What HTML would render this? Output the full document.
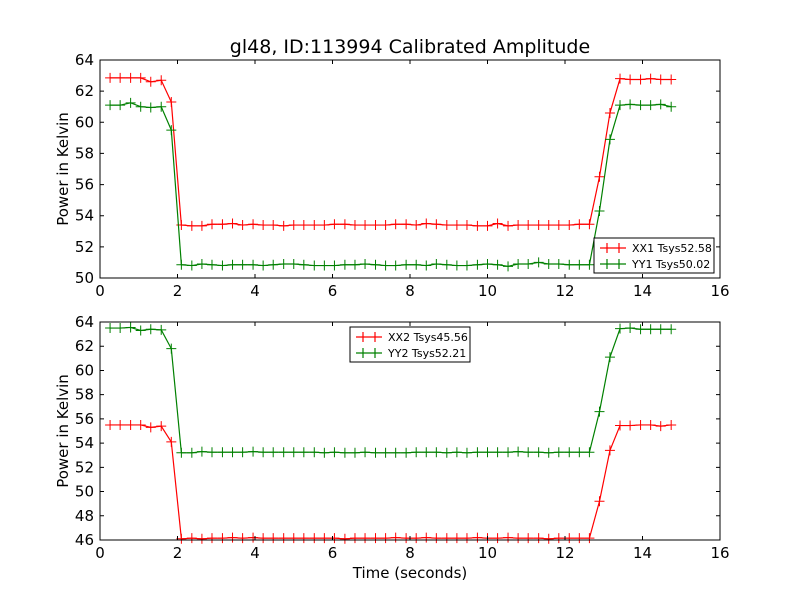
<!DOCTYPE html>
<html><head><meta charset="utf-8"><style>
body{margin:0;background:#fff}
svg{display:block;font-family:"DejaVu Sans","Liberation Sans",sans-serif}
</style></head><body>
<svg id="chart" width="800" height="600" xmlns="http://www.w3.org/2000/svg">
<rect width="800" height="600" fill="#fff"/>
<text x="410" y="53" font-size="19" text-anchor="middle">gl48, ID:113994 Calibrated Amplitude</text>
<g id="p1"></g>
<g id="p2"></g>
<text x="410" y="578" font-size="15" text-anchor="middle">Time (seconds)</text>
</svg>
<script>
const times=[0.26,0.52,0.79,1.05,1.31,1.58,1.84,2.10,2.37,2.63,2.89,3.16,3.42,3.68,3.95,4.21,4.47,4.74,5.00,5.26,5.53,5.79,6.05,6.32,6.58,6.84,7.11,7.37,7.63,7.90,8.16,8.42,8.68,8.95,9.21,9.47,9.74,10.00,10.26,10.53,10.79,11.05,11.32,11.58,11.84,12.11,12.37,12.63,12.89,13.16,13.42,13.68,13.95,14.21,14.47,14.74];
const xx1=[62.85,62.85,62.85,62.85,62.6,62.7,61.3,53.4,53.35,53.35,53.45,53.45,53.5,53.4,53.45,53.4,53.4,53.35,53.4,53.4,53.4,53.4,53.45,53.45,53.4,53.4,53.4,53.4,53.45,53.45,53.4,53.5,53.45,53.4,53.4,53.4,53.35,53.35,53.5,53.35,53.4,53.4,53.4,53.4,53.4,53.4,53.45,53.45,56.5,60.6,62.8,62.75,62.75,62.8,62.75,62.75];
const yy1=[61.1,61.1,61.25,61.0,60.95,61.0,59.5,50.85,50.8,50.9,50.85,50.8,50.85,50.85,50.85,50.8,50.85,50.9,50.9,50.85,50.8,50.8,50.8,50.85,50.85,50.9,50.85,50.8,50.8,50.85,50.85,50.8,50.9,50.85,50.8,50.8,50.85,50.9,50.85,50.75,50.9,50.9,51.0,50.9,50.9,50.85,50.85,50.85,54.3,58.9,61.1,61.15,61.1,61.1,61.15,61.0];
const xx2=[55.5,55.5,55.5,55.5,55.3,55.4,54.1,46.1,46.15,46.1,46.15,46.15,46.2,46.15,46.2,46.15,46.15,46.15,46.15,46.15,46.15,46.15,46.15,46.1,46.15,46.15,46.15,46.15,46.2,46.15,46.15,46.2,46.15,46.15,46.15,46.15,46.2,46.15,46.15,46.2,46.15,46.15,46.15,46.1,46.15,46.15,46.15,46.15,49.2,53.4,55.45,55.45,55.5,55.5,55.4,55.5];
const yy2=[63.5,63.5,63.55,63.3,63.4,63.35,61.8,53.2,53.2,53.3,53.25,53.25,53.25,53.25,53.3,53.25,53.25,53.25,53.25,53.25,53.25,53.2,53.25,53.2,53.2,53.25,53.2,53.2,53.2,53.2,53.25,53.25,53.25,53.2,53.25,53.2,53.25,53.25,53.25,53.25,53.3,53.25,53.25,53.2,53.25,53.25,53.25,53.25,56.6,61.1,63.45,63.5,63.4,63.4,63.4,63.4];
const xTicks=[0,2,4,6,8,10,12,14,16];
const yTicks1=[50,52,54,56,58,60,62,64];
const yTicks2=[46,48,50,52,54,56,58,60,62,64];
const legend1=["XX1 Tsys52.58","YY1 Tsys50.02"];
const legend2=["XX2 Tsys45.56","YY2 Tsys52.21"];
const NS="http://www.w3.org/2000/svg";
function mk(p,tag,a){const e=document.createElementNS(NS,tag);for(const k in a)e.setAttribute(k,a[k]);p.appendChild(e);return e;}
function panel(g,top,bot,ymin,ymax,yt,series,leg,lx,ly){
  const L=100,R=720;
  const xs=v=>L+(v-0)/(16-0)*(R-L);
  const ys=v=>bot-(v-ymin)/(ymax-ymin)*(bot-top);
  const colors=["#ff0000","#008000"];
  series.forEach((s,si)=>{
    const pl=mk(g,"polyline",{points:times.map((t,i)=>xs(t)+","+ys(s[i])).join(" "),fill:"none",stroke:colors[si],"stroke-width":1.2});
    
    
    times.forEach((t,i)=>{
      const x=xs(t),y=ys(s[i]);
      const m=mk(g,"path",{d:`M${x-5},${y}H${x+5}M${x},${y-5}V${y+5}`,stroke:colors[si],"stroke-width":1});
      
      
    });
  });
  const fr=mk(g,"rect",{x:L,y:top,width:R-L,height:bot-top,fill:"none",stroke:"#000","stroke-width":1});
  
  
  xTicks.forEach(v=>{
    const x=xs(v);
    mk(g,"path",{d:`M${x},${bot}v-4M${x},${top}v4`,stroke:"#000"});
    const t=mk(g,"text",{x:x,y:bot+18,"font-size":15,"text-anchor":"middle"});t.textContent=v;
    
    
  });
  yt.forEach(v=>{
    const y=ys(v);
    mk(g,"path",{d:`M${L},${y}h4M${R},${y}h-4`,stroke:"#000"});
    const t=mk(g,"text",{x:L-6,y:y+5,"font-size":15,"text-anchor":"end"});t.textContent=v;
    
    
  });
  const yl=mk(g,"text",{x:0,y:0,"font-size":15,"text-anchor":"middle",transform:`translate(68,${(top+bot)/2}) rotate(-90)`});
  yl.textContent="Power in Kelvin";
  
  
  const lg=mk(g,"g",{});
  
  
  mk(lg,"rect",{x:lx,y:ly,width:120,height:35,fill:"#fff",stroke:"#000"});
  leg.forEach((s,i)=>{
    const y=ly+10+i*16;
    mk(lg,"path",{d:`M${lx+6},${y}h26M${lx+13},${y-5}v10M${lx+25},${y-5}v10`,stroke:colors[i],"stroke-width":1.2});
    const t=mk(lg,"text",{x:lx+38,y:y+4,"font-size":11});t.textContent=s;
    
    
  });
}
panel(document.getElementById("p1"),60,278,50,64,yTicks1,[xx1,yy1],legend1,594,238);
panel(document.getElementById("p2"),322,540,46,64,yTicks2,[xx2,yy2],legend2,350,327);
</script>
</body></html>
